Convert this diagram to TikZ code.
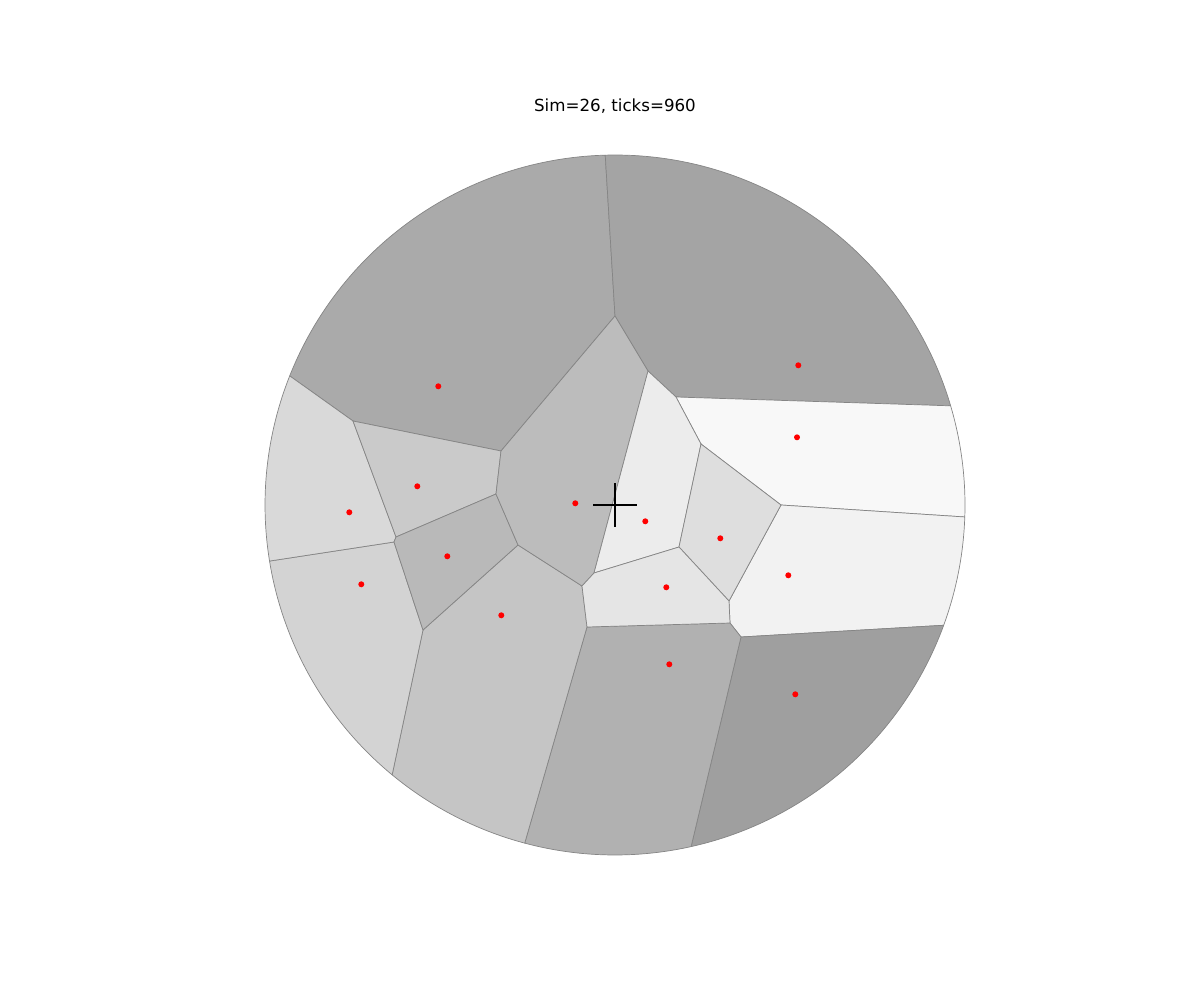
\documentclass[tikz,border=0pt]{standalone}
\usepackage{fontspec}
\setmainfont{DejaVu Sans}
\usepackage{tikz}
\usetikzlibrary{calc}
\definecolor{edgegray}{HTML}{858585}
\definecolor{gA}{HTML}{AAAAAA}
\definecolor{gB}{HTML}{A4A4A4}
\definecolor{gC}{HTML}{F8F8F8}
\definecolor{gD}{HTML}{F2F2F2}
\definecolor{gE}{HTML}{9F9F9F}
\definecolor{gF}{HTML}{B1B1B1}
\definecolor{gG}{HTML}{C5C5C5}
\definecolor{gH}{HTML}{D3D3D3}
\definecolor{gI}{HTML}{D9D9D9}
\definecolor{gJ}{HTML}{CACACA}
\definecolor{gK}{HTML}{B9B9B9}
\definecolor{gL}{HTML}{BCBCBC}
\definecolor{gM}{HTML}{ECECEC}
\definecolor{gN}{HTML}{DEDEDE}
\definecolor{gO}{HTML}{E5E5E5}
\tikzset{
  cell/.style={draw=edgegray, line width=0.7pt, line join=round},
  seed/.style={fill=red},
  cross/.style={draw=black, line width=2pt}
}

\begin{document}
\begin{tikzpicture}[x=1pt, y=-1pt]
  \useasboundingbox (0,0) rectangle (1200,1000);
  \coordinate (c) at (615,505);
  % inner vertices
  \coordinate (v1) at (615,316);
  \coordinate (v2) at (648,371);
  \coordinate (v3) at (676,397);
  \coordinate (v4) at (701,444);
  \coordinate (v5) at (781,505);
  \coordinate (v6) at (729,601);
  \coordinate (v7) at (730,623);
  \coordinate (v8) at (741,637);
  \coordinate (v9) at (587,627);
  \coordinate (v10) at (582,586);
  \coordinate (v11) at (594,573);
  \coordinate (v12) at (679,547);
  \coordinate (v13) at (518,545);
  \coordinate (v14) at (496,494);
  \coordinate (v15) at (501,451);
  \coordinate (v16) at (353,421);
  \coordinate (v17) at (396,537);
  \coordinate (v18) at (394,542);
  \coordinate (v19) at (423,630);

  % outer cells
  \path[cell, fill=gA] ($(c)+(201.65:350)$) arc[start angle=201.65, end angle=268.4, radius=350] -- (v1) -- (v15) -- (v16) -- cycle;
  \path[cell, fill=gB] ($(c)+(-91.6:350)$) arc[start angle=-91.6, end angle=-16.46, radius=350] -- (v3) -- (v2) -- (v1) -- cycle;
  \path[cell, fill=gC] ($(c)+(-16.46:350)$) arc[start angle=-16.46, end angle=1.96, radius=350] -- (v5) -- (v4) -- (v3) -- cycle;
  \path[cell, fill=gD] ($(c)+(1.96:350)$) arc[start angle=1.96, end angle=20.1, radius=350] -- (v8) -- (v7) -- (v6) -- (v5) -- cycle;
  \path[cell, fill=gE] ($(c)+(20.1:350)$) arc[start angle=20.1, end angle=77.44, radius=350] -- (v8) -- cycle;
  \path[cell, fill=gF] ($(c)+(77.44:350)$) arc[start angle=77.44, end angle=104.95, radius=350] -- (v9) -- (v7) -- (v8) -- cycle;
  \path[cell, fill=gG] ($(c)+(104.95:350)$) arc[start angle=104.95, end angle=129.55, radius=350] -- (v19) -- (v13) -- (v10) -- (v9) -- cycle;
  \path[cell, fill=gH] ($(c)+(129.55:350)$) arc[start angle=129.55, end angle=170.78, radius=350] -- (v18) -- (v19) -- cycle;
  \path[cell, fill=gI] ($(c)+(170.78:350)$) arc[start angle=170.78, end angle=201.65, radius=350] -- (v16) -- (v17) -- (v18) -- cycle;

  % inner cells
  \path[cell, fill=gJ] (v16) -- (v15) -- (v14) -- (v17) -- cycle;
  \path[cell, fill=gK] (v17) -- (v14) -- (v13) -- (v19) -- (v18) -- cycle;
  \path[cell, fill=gL] (v1) -- (v2) -- (v11) -- (v10) -- (v13) -- (v14) -- (v15) -- cycle;
  \path[cell, fill=gM] (v2) -- (v3) -- (v4) -- (v12) -- (v11) -- cycle;
  \path[cell, fill=gN] (v4) -- (v5) -- (v6) -- (v12) -- cycle;
  \path[cell, fill=gO] (v11) -- (v12) -- (v6) -- (v7) -- (v9) -- (v10) -- cycle;

  % seeds
  \foreach \p in {(438.3,386.3), (798.3,365.3), (797,437.3), (417.3,486.3),
                  (349.3,512.3), (575.3,503.3), (645.3,521.3), (720.3,538.3),
                  (447.3,556.3), (361.3,584.3), (666.3,587.3), (788.3,575.3),
                  (501.3,615.3), (669.3,664.3), (795.3,694.3)}
    \fill[seed] \p circle (3);

  % centre mark
  \coordinate (cl) at (593.3,504.7);
  \coordinate (cr) at (636.7,504.7);
  \coordinate (ct) at (615,483.3);
  \coordinate (cb) at (615,526.7);
  \draw[cross] (cl) -- (cr);
  \draw[cross] (ct) -- (cb);

  \node[font=\fontsize{16.67}{20}\selectfont] (title) at (615,106) {Sim=26, ticks=960};
\end{tikzpicture}
\end{document}
